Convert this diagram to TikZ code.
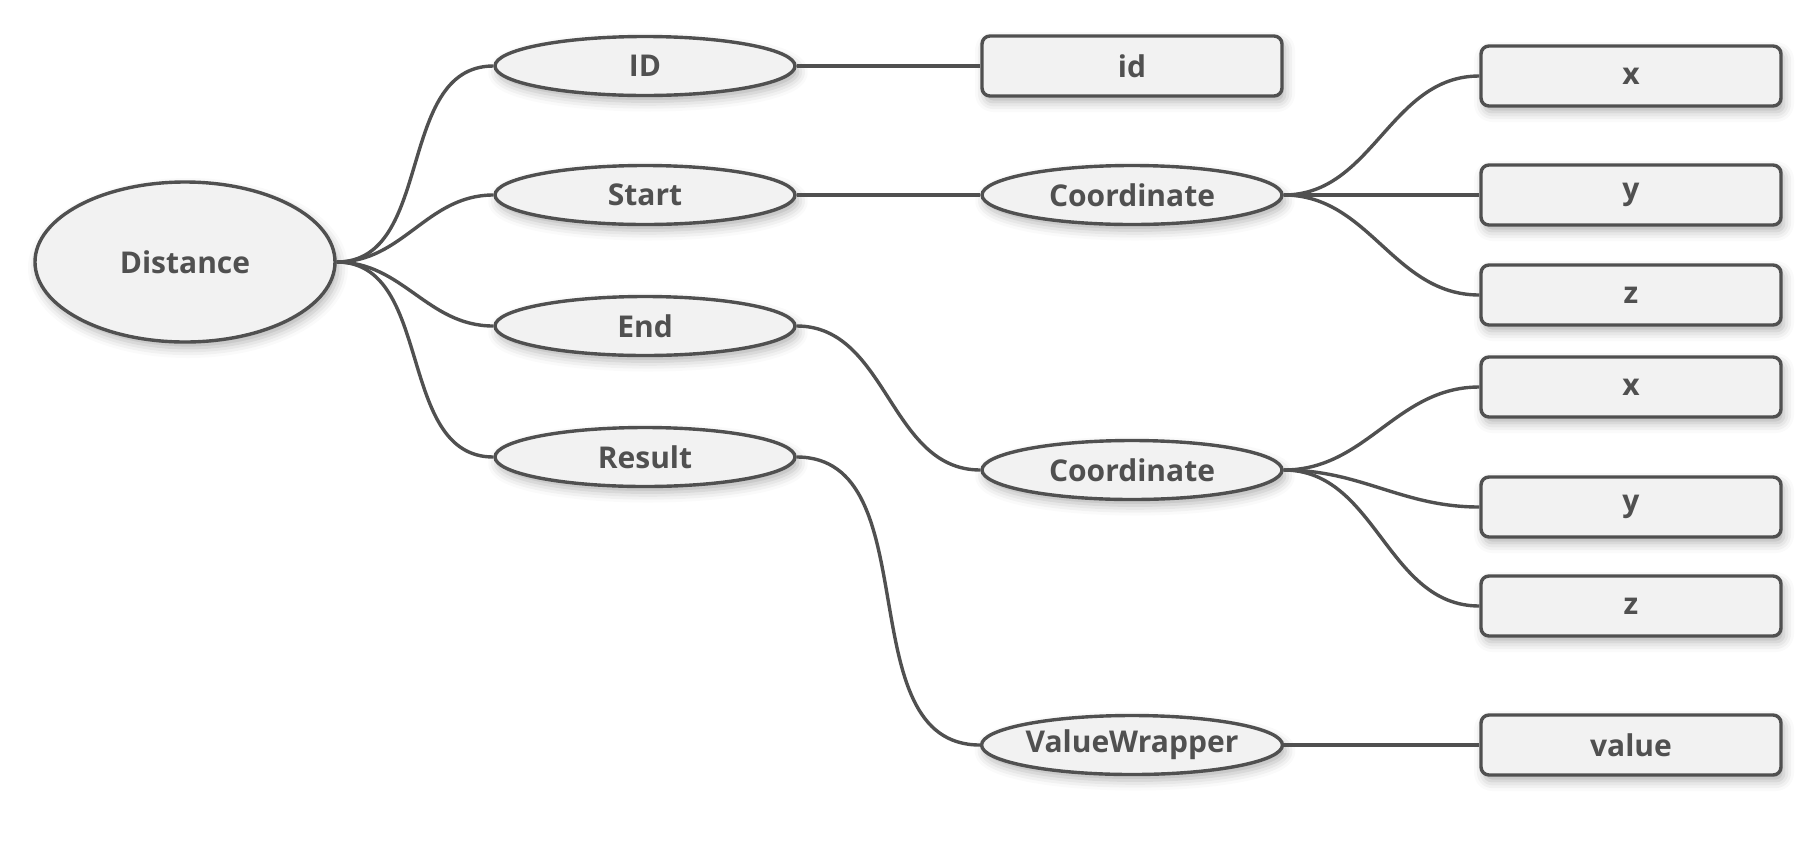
\documentclass[tikz,border=0pt]{standalone}
\usepackage{fontspec}
\setmainfont{Open Sans}
\usetikzlibrary{shapes.geometric, shadows.blur}

\definecolor{ink}{HTML}{505050}
\definecolor{paper}{HTML}{F2F2F2}

\tikzset{
	base/.style = {draw = ink, line width = 1.7pt, fill = paper, text = ink, inner sep = 0pt,
		font = \bfseries\fontsize{15}{18}\selectfont,
		blur shadow = {shadow xshift = 1.5pt, shadow yshift = -3pt, shadow blur radius = 5pt, shadow opacity = 30}},
	field/.style = {base, ellipse, minimum width = 150pt, minimum height = 29.5pt},
	leaf/.style = {base, rectangle, rounded corners = 4pt, minimum width = 150pt, minimum height = 30pt},
	link/.style = {draw = ink, line width = 1.7pt},
	curve/.style = {out = 0, in = 180}
}

\begin{document}
\begin{tikzpicture}[x = 0.5pt, y = -0.5pt]

	% Canvas
	
	\useasboundingbox (0, 0) rectangle (1802, 852);

	% Root
	
	\node [field, minimum width = 150pt, minimum height = 80pt] (distance) at (185, 262) {Distance};
	
	% First level
	
	\node [field] (ID) at (645, 66) {ID};
	\node [field] (start) at (645, 195) {Start};
	\node [field] (end) at (645, 326) {End};
	\node [field] (result) at (645, 457) {Result};
	
	% Second level
	
	\node [leaf] (id) at (1132, 66) {id};
	\node [field] (startcoord) at (1132, 195) {Coordinate};
	\node [field] (endcoord) at (1132, 470) {Coordinate};
	\node [field] (wrapper) at (1132, 745) {ValueWrapper};
	
	% Third level
	
	\node [leaf] (sx) at (1631, 76) {x};
	\node [leaf] (sy) at (1631, 195) {y};
	\node [leaf] (sz) at (1631, 295) {z};
	\node [leaf] (ex) at (1631, 387) {x};
	\node [leaf] (ey) at (1631, 507) {y};
	\node [leaf] (ez) at (1631, 606) {z};
	\node [leaf] (value) at (1631, 745) {value};
	
	% Branches
	
	\foreach \a/\b in {distance/ID, distance/start, distance/end, distance/result,
		ID/id, start/startcoord, end/endcoord, result/wrapper,
		startcoord/sx, startcoord/sy, startcoord/sz,
		endcoord/ex, endcoord/ey, endcoord/ez, wrapper/value}
		\draw [link] (\a.east) to [curve] (\b.west);

\end{tikzpicture}
\end{document}
